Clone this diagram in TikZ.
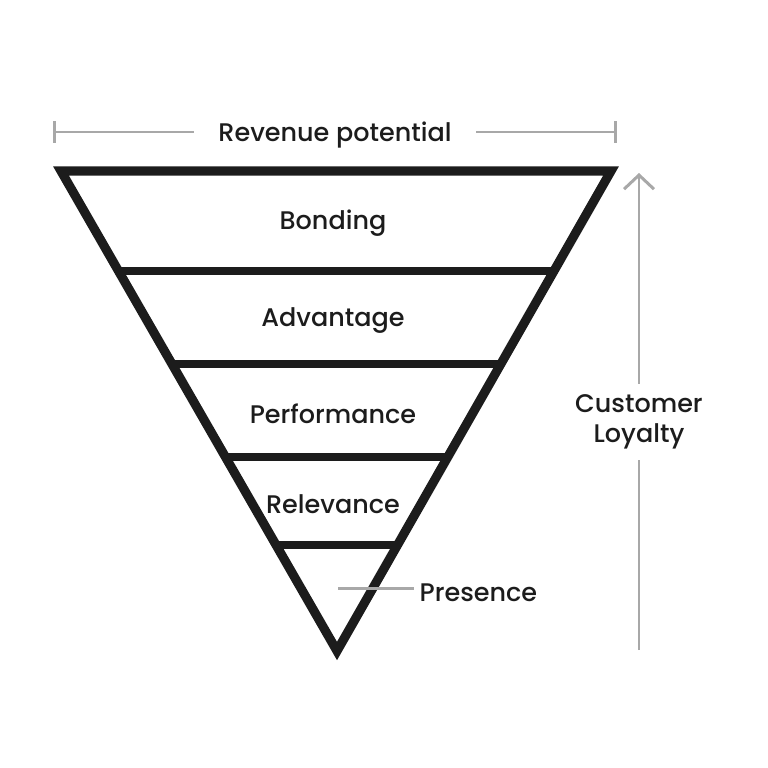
\documentclass[tikz,border=0pt]{standalone}
\usepackage{fontspec}
\setmainfont{Poppins}[UprightFont=* Medium]
\usetikzlibrary{arrows.meta,positioning,calc}
\definecolor{ink}{HTML}{1C1C1C}
\definecolor{guide}{HTML}{A8A8A8}

\begin{document}
\begin{tikzpicture}[x=0.02cm,y=-0.02cm,
      funnel/.style={draw=ink,line width=5.2pt,line join=miter},
      layer/.style={draw=ink,line width=4.6pt},
      guide line/.style={draw=guide,line width=1.7pt},
      label node/.style={text=ink,font=\fontsize{14.5}{17}\selectfont},
      gap node/.style={label node,fill=white,inner xsep=14pt,inner ysep=4pt}]

    \useasboundingbox (0,0) rectangle (768,768);

    % funnel corners
    \coordinate (tl) at (61,171);
    \coordinate (tr) at (611,171);
    \coordinate (apex) at (337,651);

    \draw[funnel] (tl) -- (tr) -- (apex) -- cycle;

    % layer dividers
    \foreach \t in {0.208,0.402,0.596,0.779}
      \draw[layer] ($(tl)!\t!(apex)$) -- ($(tr)!\t!(apex)$);

    \node[label node] (bond) at (333,223) {Bonding};
    \node[label node] (adv) at (333,321) {Advantage};
    \node[label node] (perf) at (333,414) {Performance};
    \node[label node] (rel) at (333,504) {Relevance};

    % revenue bracket
    \coordinate (bl) at (53,132);
    \coordinate (br) at (617,132);
    \node[gap node] (rev) at (335,135) {Revenue potential};
    \draw[guide line,{Bar[width=12pt]}-] (bl) -- (rev.west |- bl);
    \draw[guide line,-{Bar[width=12pt]}] (rev.east |- br) -- (br);

    % loyalty arrow
    \coordinate (lb) at (639,650);
    \coordinate (lt) at (639,173);
    \node[gap node,align=center,inner xsep=2pt,inner ysep=6pt] (loyal) at (639,422) {Customer\\Loyalty};
    \draw[guide line] (lb) -- (loyal.south);
    \draw[guide line,-{Straight Barb[length=8pt,width=17pt,line width=1.7pt]}] (loyal.north) -- (lt);

    % presence pointer
    \coordinate (pl) at (338,588);
    \node[label node,anchor=west,inner sep=3pt] (pres) at (414,593) {Presence};
    \draw[guide line] (pl) -- (pres.west |- pl);

\end{tikzpicture}
\end{document}
